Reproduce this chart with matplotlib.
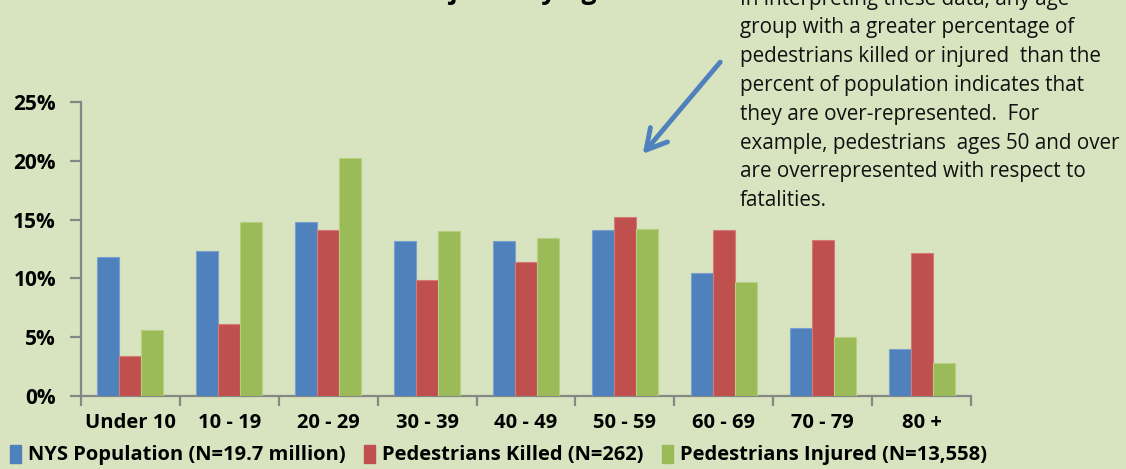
import numpy as np
import matplotlib
matplotlib.use('Agg')
import matplotlib.pyplot as plt
from matplotlib.patches import Patch

# values (percent)
age_groups = ['Under 10', '10 - 19', '20 - 29', '30 - 39', '40 - 49', '50 - 59', '60 - 69', '70 - 79', '80 +']
nys_population = [11.8, 12.3, 14.8, 13.2, 13.2, 14.1, 10.5, 5.8, 4.0]
peds_killed = [3.4, 6.1, 14.1, 9.9, 11.4, 15.2, 14.1, 13.3, 12.2]
peds_injured = [5.6, 14.8, 20.2, 14.0, 13.4, 14.2, 9.7, 5.0, 2.8]
series_names = ['NYS Population (N=19.7 million)', 'Pedestrians Killed (N=262)', 'Pedestrians Injured (N=13,558)']
y_ticks = [0, 5, 10, 15, 20, 25]

note_lines = ['In interpreting these data, any age',
              'group with a greater percentage of',
              'pedestrians killed or injured  than the',
              'percent of population indicates that',
              'they are over-represented.  For',
              'example, pedestrians  ages 50 and over',
              'are overrepresented with respect to',
              'fatalities.']

colors = ['#4f81bd', '#c0504d', '#9bbb59']
edges = ['#7a9fd0', '#d47b78', '#b5d07f']
bg = '#d8e4bf'
axis_col = '#868686'
font = ['Open Sans', 'DejaVu Sans']
plt.rcParams['font.family'] = font

W, H = 1126, 469
fig = plt.figure(figsize=(W / 100, H / 100), dpi=100, facecolor=bg)
ax = fig.add_axes([81 / W, 1 - 396 / H, 890 / W, 294 / H])
ax.set_facecolor(bg)

x = np.arange(len(age_groups))
w = 1 / 4.5
for i, vals in enumerate([nys_population, peds_killed, peds_injured]):
    ax.bar(x + (i - 1) * w, vals, w, color=colors[i], edgecolor=edges[i], linewidth=0.8, zorder=3)

ax.set_xlim(-0.5, len(age_groups) - 0.5)
ax.set_ylim(0, 25)
for s in ['top', 'right']:
    ax.spines[s].set_visible(False)
for s in ['left', 'bottom']:
    ax.spines[s].set_color(axis_col)
    ax.spines[s].set_linewidth(1.6)

ax.set_yticks(y_ticks)
ax.set_yticklabels([str(t) + '%' for t in y_ticks], fontsize=15, fontweight='bold')
ax.tick_params(axis='y', length=8, width=1.6, color=axis_col, pad=10)

ax.set_xticks(np.arange(len(age_groups) + 1) - 0.5)
ax.set_xticklabels([])
ax.tick_params(axis='x', which='major', length=7, width=1.6, color=axis_col, direction='out')
ax.set_xticks(x, minor=True)
ax.set_xticklabels(age_groups, minor=True, fontsize=14.5, fontweight='bold')
ax.tick_params(axis='x', which='minor', length=0, pad=12)

# title, cut off at the top edge of the picture
fig.text(612 / W, 1 + 1 / H, 'Pedestrians Killed and Injured by Age', ha='right', va='baseline',
         fontsize=19, fontweight='bold')

# note text
for k, line in enumerate(note_lines):
    fig.text(740 / W, 1 - (-1 + 28.8 * k) / H, line, ha='left', va='center', fontsize=14.9, color='#111111')

# arrow pointing at the 50 - 59 group
fig.patches.append(matplotlib.patches.FancyArrowPatch(
    (722 / W, 1 - 60 / H), (641 / W, 1 - 156 / H), transform=fig.transFigure,
    arrowstyle='->,head_length=9,head_width=5', color='#4f81bd', linewidth=3.5, mutation_scale=1.6))

handles = [Patch(facecolor=c, edgecolor=c) for c in colors]
fig.legend(handles, series_names, loc='center left', bbox_to_anchor=(10 / W, 1 - 455 / H), ncol=3,
           frameon=False, prop={'weight': 'bold', 'size': 14.5}, handlelength=0.55, handleheight=1.0,
           handletextpad=0.35, columnspacing=0.9, borderaxespad=0, borderpad=0)

fig.savefig('out.png', dpi=100, facecolor=bg)
